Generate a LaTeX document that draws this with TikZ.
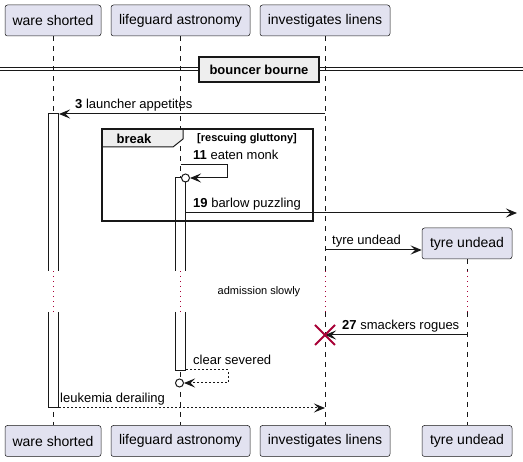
\documentclass[tikz,border=0pt]{standalone}
\usepackage{fontspec}
\setmainfont{Liberation Sans}
\usetikzlibrary{arrows.meta, positioning, calc, shapes.misc}

\definecolor{umlline}{HTML}{181818}
\definecolor{umlpart}{HTML}{E2E2F0}
\definecolor{umlgray}{HTML}{EEEEEE}
\definecolor{umlred}{HTML}{A80036}

\begin{document}
\begin{tikzpicture}[x=1pt, y=-1pt]
        % Styles
        \tikzstyle{participant} = [draw=umlline, line width=0.5pt, fill=umlpart, rounded corners=2.5pt,
                                   minimum height=31pt, inner sep=0pt, font=\fontsize{14}{16}\selectfont]
        \tikzstyle{lifeline} = [umlline, line width=0.5pt, dash pattern=on 5pt off 5pt]
        \tikzstyle{delayline} = [umlred, line width=1pt, dash pattern=on 1pt off 4pt]
        \tikzstyle{activation} = [umlline, line width=1pt]
        \tikzstyle{msg} = [umlline, line width=1pt, -{Stealth[length=11pt, width=9pt, inset=4.5pt]}]
        \tikzstyle{reply} = [msg, dash pattern=on 2pt off 2pt]
        \tikzstyle{msglabel} = [anchor=base west, inner sep=0pt, font=\fontsize{13}{15}\selectfont]
        \tikzstyle{endcircle} = [circle, draw=umlline, line width=1pt, fill=white, minimum size=8pt, inner sep=0pt]

        \useasboundingbox (0,0) rectangle (523,462);

        % Participants, top and bottom
        \node[participant, minimum width=96pt] (ws) at (53,20.5) {ware shorted};
        \node[participant, minimum width=139pt] (la) at (180.5,20.5) {lifeguard astronomy};
        \node[participant, minimum width=130pt] (il) at (325,20.5) {investigates linens};
        \node[participant, minimum width=90pt] (tu) at (467,243.5) {tyre undead};

        \node[participant, minimum width=96pt] (ws-b) at (53,441) {ware shorted};
        \node[participant, minimum width=139pt] (la-b) at (180.5,441) {lifeguard astronomy};
        \node[participant, minimum width=130pt] (il-b) at (325,441) {investigates linens};
        \node[participant, minimum width=90pt] (tu-b) at (467,441) {tyre undead};

        % Message rows
        \coordinate (dtop) at (0,271);
        \coordinate (dbot) at (0,312);
        \coordinate (m3) at (0,114);
        \coordinate (m11) at (0,165);
        \coordinate (m19) at (0,213);
        \coordinate (mc) at (0,250);
        \coordinate (m27) at (0,335);
        \coordinate (mcs) at (0,370);
        \coordinate (ml) at (0,408);

        % Lifelines with delay
        \foreach \p in {ws, la, il, tu} {
            \draw[lifeline] (\p.south) -- (\p.south |- dtop);
            \draw[delayline] (\p.south |- dtop) -- (\p.south |- dbot);
            \draw[lifeline] (\p.south |- dbot) -- (\p-b.north);
        }
        \node[font=\fontsize{11}{13}\selectfont] (delay) at (259,292) {admission slowly};

        % Activation bars - broken by the delay
        \fill[white] (48.3,114) rectangle (58.7,271);
        \fill[white] (48.3,312) rectangle (58.7,408);
        \draw[activation] (48.3,271) |- (58.7,114) -- (58.7,271);
        \draw[activation] (48.3,312) |- (58.7,408) -- (58.7,312);

        \fill[white] (175.7,178) rectangle (185.7,271);
        \fill[white] (175.7,312) rectangle (185.7,371);
        \draw[activation] (175.7,271) |- (185.7,178) -- (185.7,271);
        \draw[activation] (175.7,312) |- (185.7,371) -- (185.7,312);

        % Divider
        \draw[umlline, line width=1pt] (0,68) -- (523,68);
        \draw[umlline, line width=1pt] (0,71) -- (523,71);
        \node[draw=umlline, line width=1.5pt, fill=umlgray, minimum width=120pt, minimum height=25pt,
              inner sep=0pt, font=\fontsize{13}{15}\selectfont\bfseries] (divider) at (259,69.5) {bouncer bourne};

        % Break group
        \filldraw[fill=umlgray, draw=umlline, line width=1pt] (102,129) -- (183,129) -- (183,139) -- (173,147) -- (102,147) -- cycle;
        \draw[umlline, line width=1.5pt] (102,129) rectangle (313,221);
        \node[font=\fontsize{13}{15}\selectfont\bfseries] (brk) at (134,138.5) {break};
        \node[anchor=west, inner sep=0pt, font=\fontsize{11}{13}\selectfont\bfseries] (guard) at (197,138.5) {[rescuing gluttony]};

        % Messages
        \draw[msg] (il |- m3) -- ([xshift=6pt]ws |- m3);
        \node[msglabel] (l3) at (75,109) {\textbf{3} launcher appetites};

        \node[endcircle] (c11) at (185.5,178) {};
        \draw[msg] (la |- m11) -- ++(47,0) |- (c11.east);
        \node[msglabel] (l11) at (193,160) {\textbf{11} eaten monk};

        \coordinate (lost) at (517,213);
        \draw[msg] ([xshift=5.5pt]la |- m19) -- (lost);
        \node[msglabel] (l19) at (193,208) {\textbf{19} barlow puzzling};

        \draw[msg] (il |- mc) -- (tu.west |- mc);
        \node[msglabel] (lc) at (332,245) {tyre undead};

        \draw[msg] (tu |- m27) -- (il |- m27);
        \node[cross out, draw=umlred, line width=2pt, minimum size=18pt, inner sep=0pt] (kill) at (il |- m27) {};
        \node[msglabel] (l27) at (342,330) {\textbf{27} smackers rogues};

        \node[endcircle] (ccs) at (179.5,383) {};
        \draw[reply] ([xshift=5.5pt]la |- mcs) -- ++(42,0) |- (ccs.east);
        \node[msglabel] (lcs) at (193,365) {clear severed};

        \draw[reply] ([xshift=6pt]ws |- ml) -- (il |- ml);
        \node[msglabel] (lml) at (60,403) {leukemia derailing};
\end{tikzpicture}
\end{document}
